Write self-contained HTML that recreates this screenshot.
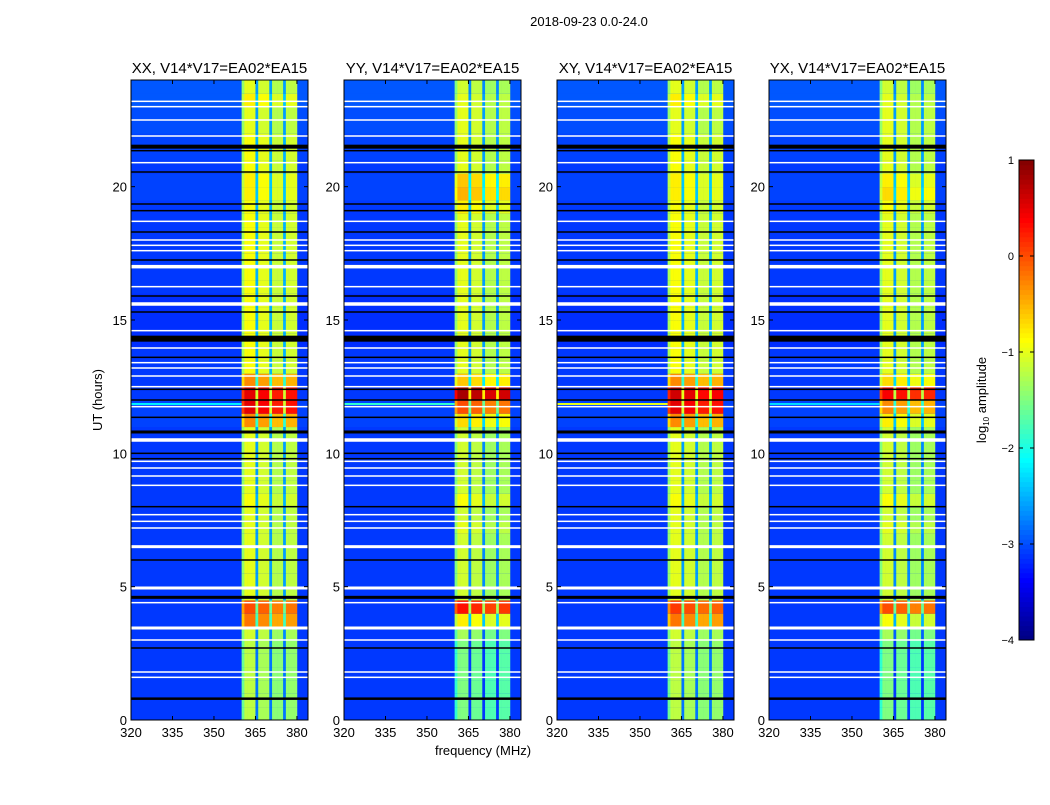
<!DOCTYPE html>
<html><head><meta charset="utf-8"><style>
body{margin:0;background:#fff;}
svg text{font-family:"Liberation Sans",sans-serif;fill:#000;}
</style></head><body>
<svg id="fig" width="1050" height="800" xmlns="http://www.w3.org/2000/svg">
<text x="589" y="26" font-size="13" text-anchor="middle">2018-09-23 0.0-24.0</text>
<text x="102" y="400" font-size="13" text-anchor="middle" transform="rotate(-90 102 400)">UT (hours)</text>
<text x="483" y="755" font-size="13" text-anchor="middle">frequency (MHz)</text>
<text x="986" y="400" font-size="13" text-anchor="middle" transform="rotate(-90 986 400)">log<tspan font-size="8" dy="3">10</tspan><tspan dy="-3"> amplitude</tspan></text>
<g id="panels"></g>
<g id="cbar"></g>
</svg>
<script>
// ---- data ----
const panelTitles = ["XX, V14*V17=EA02*EA15","YY, V14*V17=EA02*EA15","XY, V14*V17=EA02*EA15","YX, V14*V17=EA02*EA15"];
const xTicks = [320,335,350,365,380];
const yTicks = [0,5,10,15,20];
const cbTicks = [1,0,-1,-2,-3,-4];
// frequency gain in band, 1 MHz bins starting at 360 MHz
const bandStart = 360;
const bandGain = [-0.4,0,0,0,0,-1.6,-0.1,-0.1,-0.1,-0.1,-1.6,-0.25,-0.25,-0.25,-0.25,-1.6,-0.2,-0.2,-0.2,-0.2];
// band level per half-hour bin (0..24 h), log10 amplitude
const bandXX = [-1.2,-1.2,-1.2,-1.2,-1.2,-1.2,-1.1,-0.2,0.0,-1.0,-1.0,-1.0,-1.0,-1.0,-1.0,-1.0,-0.9,-1.0,-1.0,-1.0,-1.0,-1.0,-0.3,0.5,0.5,-0.3,-0.9,-0.9,-0.9,-0.9,-0.9,-0.9,-0.9,-0.9,-0.9,-0.9,-0.9,-0.9,-0.9,-0.8,-0.8,-0.9,-0.9,-0.9,-1.0,-1.0,-0.8,-1.0];
const bandYY = [-1.5,-1.5,-1.5,-1.5,-1.5,-1.5,-1.3,-0.8,0.3,-1.1,-1.1,-1.1,-1.1,-1.1,-1.0,-1.1,-0.9,-1.1,-1.1,-1.1,-1.1,-1.1,-0.7,0.0,0.8,-0.6,-1.0,-1.0,-1.0,-1.0,-1.0,-1.0,-1.0,-1.0,-1.0,-1.0,-1.0,-1.0,-0.8,-0.5,-0.6,-1.0,-1.0,-1.0,-1.0,-1.0,-1.0,-1.1];
const bandXY = [-1.2,-1.2,-1.2,-1.2,-1.2,-1.2,-1.1,-0.2,0.1,-1.0,-1.0,-1.0,-1.0,-1.0,-1.0,-1.0,-0.9,-1.0,-1.0,-1.0,-1.0,-1.0,-0.3,0.5,0.6,-0.3,-0.9,-0.9,-0.9,-0.9,-0.9,-0.9,-0.9,-0.9,-0.9,-0.9,-0.9,-0.9,-0.9,-0.8,-0.8,-0.9,-0.9,-0.9,-1.0,-1.0,-0.8,-1.0];
const bandYX = [-1.5,-1.5,-1.5,-1.5,-1.5,-1.5,-1.3,-0.9,0.0,-1.1,-1.1,-1.1,-1.1,-1.1,-1.0,-1.1,-0.9,-1.1,-1.1,-1.1,-1.1,-1.1,-0.8,-0.3,0.4,-0.7,-1.0,-1.0,-1.0,-1.0,-1.0,-1.0,-1.0,-1.0,-1.0,-1.0,-1.0,-1.0,-0.9,-0.7,-0.8,-1.0,-1.0,-1.0,-1.0,-1.0,-1.0,-1.1];
const bandLevels = [bandXX,bandYY,bandXY,bandYX];
// background level per half-hour bin
const bgLevel = [-3.1,-3.1,-3.1,-3.1,-3.1,-3.1,-3.1,-3.1,-3.1,-3.1,-3.1,-3.1,-3.1,-3.1,-3.1,-3.1,-3.1,-3.1,-3.1,-3.1,-3.1,-3.1,-3.05,-3.05,-3.1,-3.1,-3.1,-3.1,-3.15,-3.15,-3.15,-3.15,-3.1,-3.1,-3.1,-3.1,-3.1,-3.1,-3.1,-3.05,-3.05,-3.1,-3.05,-3.05,-3.0,-3.0,-2.95,-2.95];
// flagged times (hours): white = no data, black = zero
const whiteHours = [23.2,23.0,22.5,21.9,20.9,18.7,18.0,17.8,17.6,17.0,16.25,15.6,14.6,13.95,13.4,13.2,12.9,12.5,11.75,10.5,9.7,9.45,9.15,8.8,7.7,7.45,7.2,6.5,4.95,4.4,3.45,3.0,1.8,1.6];
const whiteWidth = [1.5,1.5,1.5,1.5,1.5,1.5,1.5,1.5,1.5,3.5,1.5,3.5,1.5,1.5,1.5,1.5,1.5,1.5,1.5,3.5,1.5,1.5,1.5,1.5,1.5,1.5,1.5,3,3,1.5,3,1.5,1.5,1.5];
const blackHours = [21.5,21.35,20.55,19.35,19.1,18.3,17.25,15.9,15.3,14.3,13.6,12.4,12.0,11.35,10.8,10.0,9.8,8.0,6.0,4.6,2.7,0.8];
const blackWidth = [4,1.5,1.5,1.5,1.5,1.5,1.5,1.5,1.5,6,1.5,1.5,1.5,1.5,3,1.5,1.5,1.5,1.5,3,1.5,2.5];
const rfiHour = 11.85;
const rfiLevel = [-2.2,-1.9,-1.0,-2.3];

// ---- scales ----
const panelX = [131,344,557,769];
const PW = 177, Y0 = 80, Y1 = 720;
const fMin = 320, fMax = 384, tMax = 24;
const xs = (p,f)=> panelX[p] + (f - fMin)/(fMax - fMin)*PW;
const ys = h => Y1 - h/tMax*(Y1 - Y0);
function jet(v){
  let t=(v+4)/5; t=Math.max(0,Math.min(1,t));
  const c=x=>Math.round(255*Math.max(0,Math.min(1,x)));
  return `rgb(${c(1.5-Math.abs(4*t-3))},${c(1.5-Math.abs(4*t-2))},${c(1.5-Math.abs(4*t-1))})`;
}
const NS="http://www.w3.org/2000/svg";
function mk(tag,attrs,parent){const e=document.createElementNS(NS,tag);for(const k in attrs)e.setAttribute(k,attrs[k]);parent.appendChild(e);return e;}
const root=document.getElementById('panels');
for(let p=0;p<4;p++){
  const g=mk('g',{},root);
  
  
  const x0=panelX[p];
  const half=0.5;
  for(let i=0;i<bgLevel.length;i++){
    const yt=ys((i+1)*half), yb=ys(i*half);
    const r=mk('rect',{x:x0,y:yt,width:PW,height:yb-yt+0.4,fill:jet(bgLevel[i])},g);
    
    
    for(let j=0;j<bandGain.length;j++){
      const xa=xs(p,bandStart+j), xb=xs(p,bandStart+j+1);
      const c=mk('rect',{x:xa,y:yt,width:xb-xa+0.3,height:yb-yt+0.4,fill:jet(bandLevels[p][i]+bandGain[j])},g);
      
      
    }
  }
  const rf=mk('rect',{x:x0,y:ys(rfiHour)-1,width:xs(p,bandStart)-x0,height:2,fill:jet(rfiLevel[p])},g);
  
  
  blackHours.forEach((h,k)=>{
    const b=mk('rect',{x:x0,y:ys(h)-blackWidth[k]/2,width:PW,height:blackWidth[k],fill:'#000'},g);
    
    
  });
  whiteHours.forEach((h,k)=>{
    const w=mk('rect',{x:x0,y:ys(h)-whiteWidth[k]/2,width:PW,height:whiteWidth[k],fill:'#fff'},g);
    
    
  });
  const fr=mk('rect',{x:x0,y:Y0,width:PW,height:Y1-Y0,fill:'none',stroke:'#000','stroke-width':1},g);
  
  
  const tt=mk('text',{x:x0+PW/2,y:73,'font-size':15,'text-anchor':'middle'},g);
  tt.textContent=panelTitles[p];
  
  
  xTicks.forEach(f=>{
    const x=xs(p,f);
    mk('line',{x1:x,x2:x,y1:Y1,y2:Y1-4,stroke:'#000'},g);
    mk('line',{x1:x,x2:x,y1:Y0,y2:Y0+4,stroke:'#000'},g);
    const t=mk('text',{x:x,y:737,'font-size':13,'text-anchor':'middle'},g);
    t.textContent=f;
    
    
  });
  yTicks.forEach(h=>{
    const y=ys(h);
    mk('line',{x1:x0,x2:x0+4,y1:y,y2:y,stroke:'#000'},g);
    mk('line',{x1:x0+PW,x2:x0+PW-4,y1:y,y2:y,stroke:'#000'},g);
    const t=mk('text',{x:x0-4,y:y+5,'font-size':13,'text-anchor':'end'},g);
    t.textContent=h;
    
    
  });
}
// colorbar
const cb=document.getElementById('cbar');
const CX=1019,CW=15,CT=160,CB=640;
const cys=v=>CB-(v+4)/5*(CB-CT);
const steps=[];for(let k=0;k<100;k++)steps.push(-4+k*0.05);
steps.forEach(v=>{
  const r=mk('rect',{x:CX,y:cys(v+0.05),width:CW,height:cys(v)-cys(v+0.05)+0.5,fill:jet(v+0.025)},cb);
  
  
});
mk('rect',{x:CX,y:CT,width:CW,height:CB-CT,fill:'none',stroke:'#000'},cb);
cbTicks.forEach(v=>{
  const y=cys(v);
  mk('line',{x1:CX,x2:CX+4,y1:y,y2:y,stroke:'#000'},cb);
  mk('line',{x1:CX+CW,x2:CX+CW-4,y1:y,y2:y,stroke:'#000'},cb);
  const t=mk('text',{x:1014,y:y+4,'font-size':11,'text-anchor':'end'},cb);
  t.textContent=v<0?'\u2212'+(-v):String(v);
  
  
});
</script>
</body></html>
